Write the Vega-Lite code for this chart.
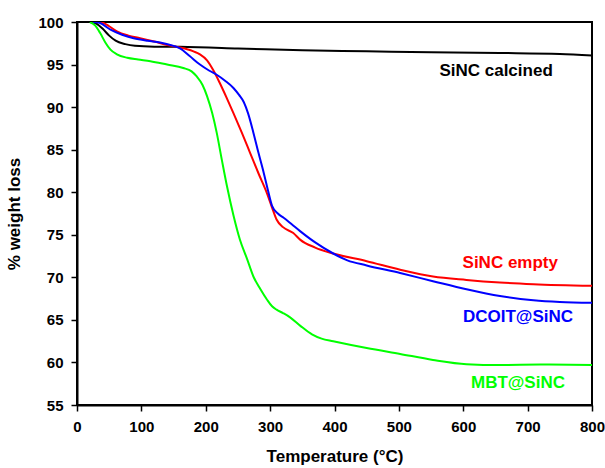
{
  "$schema": "https://vega.github.io/schema/vega-lite/v6.json",
  "autosize": "none",
  "width": 515,
  "height": 383,
  "padding": {"left": 77, "top": 22, "right": 13, "bottom": 63},
  "background": "white",
  "config": {
    "font": "Liberation Sans",
    "view": {"stroke": "black", "strokeWidth": 2},
    "axis": {
      "grid": false,
      "domainColor": "black",
      "domainWidth": 2,
      "tickColor": "black",
      "tickWidth": 1.5,
      "labelFont": "Liberation Sans",
      "labelFontWeight": "bold",
      "labelFontSize": 15,
      "labelColor": "black",
      "titleFont": "Liberation Sans",
      "titleFontWeight": "bold",
      "titleFontSize": 17,
      "titleColor": "black"
    }
  },
  "datasets": {
    "curves": [
      {"series": "SiNC calcined", "t": 20, "w": 100},
      {"series": "SiNC calcined", "t": 30, "w": 99.8},
      {"series": "SiNC calcined", "t": 40, "w": 99.2},
      {"series": "SiNC calcined", "t": 50, "w": 98.4},
      {"series": "SiNC calcined", "t": 60, "w": 97.8},
      {"series": "SiNC calcined", "t": 75, "w": 97.4},
      {"series": "SiNC calcined", "t": 90, "w": 97.2},
      {"series": "SiNC calcined", "t": 120, "w": 97.1},
      {"series": "SiNC calcined", "t": 160, "w": 97.08},
      {"series": "SiNC calcined", "t": 250, "w": 96.9},
      {"series": "SiNC calcined", "t": 350, "w": 96.67},
      {"series": "SiNC calcined", "t": 450, "w": 96.55},
      {"series": "SiNC calcined", "t": 550, "w": 96.45},
      {"series": "SiNC calcined", "t": 657, "w": 96.36},
      {"series": "SiNC calcined", "t": 750, "w": 96.24},
      {"series": "SiNC calcined", "t": 800, "w": 96.05},

      {"series": "SiNC empty", "t": 25, "w": 100},
      {"series": "SiNC empty", "t": 36, "w": 100},
      {"series": "SiNC empty", "t": 50, "w": 99.5},
      {"series": "SiNC empty", "t": 62, "w": 98.9},
      {"series": "SiNC empty", "t": 80, "w": 98.4},
      {"series": "SiNC empty", "t": 98, "w": 98.1},
      {"series": "SiNC empty", "t": 120, "w": 97.7},
      {"series": "SiNC empty", "t": 140, "w": 97.3},
      {"series": "SiNC empty", "t": 160, "w": 97.0},
      {"series": "SiNC empty", "t": 171, "w": 96.8},
      {"series": "SiNC empty", "t": 181, "w": 96.55},
      {"series": "SiNC empty", "t": 191, "w": 96.2},
      {"series": "SiNC empty", "t": 202, "w": 95.5},
      {"series": "SiNC empty", "t": 212, "w": 94.3},
      {"series": "SiNC empty", "t": 222, "w": 92.8},
      {"series": "SiNC empty", "t": 233, "w": 91.0},
      {"series": "SiNC empty", "t": 243, "w": 89.3},
      {"series": "SiNC empty", "t": 256, "w": 87.0},
      {"series": "SiNC empty", "t": 269, "w": 84.6},
      {"series": "SiNC empty", "t": 282, "w": 82.2},
      {"series": "SiNC empty", "t": 295, "w": 79.9},
      {"series": "SiNC empty", "t": 303, "w": 78.2},
      {"series": "SiNC empty", "t": 310, "w": 76.8},
      {"series": "SiNC empty", "t": 320, "w": 75.9},
      {"series": "SiNC empty", "t": 336, "w": 75.2},
      {"series": "SiNC empty", "t": 347, "w": 74.4},
      {"series": "SiNC empty", "t": 370, "w": 73.5},
      {"series": "SiNC empty", "t": 398, "w": 72.8},
      {"series": "SiNC empty", "t": 450, "w": 71.9},
      {"series": "SiNC empty", "t": 502, "w": 70.9},
      {"series": "SiNC empty", "t": 553, "w": 70.1},
      {"series": "SiNC empty", "t": 605, "w": 69.7},
      {"series": "SiNC empty", "t": 657, "w": 69.4},
      {"series": "SiNC empty", "t": 709, "w": 69.2},
      {"series": "SiNC empty", "t": 800, "w": 69.0},

      {"series": "DCOIT@SiNC", "t": 25, "w": 100},
      {"series": "DCOIT@SiNC", "t": 35, "w": 99.9},
      {"series": "DCOIT@SiNC", "t": 52, "w": 99.1},
      {"series": "DCOIT@SiNC", "t": 70, "w": 98.5},
      {"series": "DCOIT@SiNC", "t": 88, "w": 98.1},
      {"series": "DCOIT@SiNC", "t": 110, "w": 97.8},
      {"series": "DCOIT@SiNC", "t": 129, "w": 97.6},
      {"series": "DCOIT@SiNC", "t": 150, "w": 97.2},
      {"series": "DCOIT@SiNC", "t": 160, "w": 96.9},
      {"series": "DCOIT@SiNC", "t": 175, "w": 96.0},
      {"series": "DCOIT@SiNC", "t": 191, "w": 95.0},
      {"series": "DCOIT@SiNC", "t": 205, "w": 94.3},
      {"series": "DCOIT@SiNC", "t": 217, "w": 93.8},
      {"series": "DCOIT@SiNC", "t": 230, "w": 93.1},
      {"series": "DCOIT@SiNC", "t": 243, "w": 92.25},
      {"series": "DCOIT@SiNC", "t": 252, "w": 91.4},
      {"series": "DCOIT@SiNC", "t": 259, "w": 90.6},
      {"series": "DCOIT@SiNC", "t": 266, "w": 89.2},
      {"series": "DCOIT@SiNC", "t": 274, "w": 87.0},
      {"series": "DCOIT@SiNC", "t": 282, "w": 84.6},
      {"series": "DCOIT@SiNC", "t": 290, "w": 82.3},
      {"series": "DCOIT@SiNC", "t": 297, "w": 80.1},
      {"series": "DCOIT@SiNC", "t": 303, "w": 78.4},
      {"series": "DCOIT@SiNC", "t": 312, "w": 77.5},
      {"series": "DCOIT@SiNC", "t": 321, "w": 77.0},
      {"series": "DCOIT@SiNC", "t": 334, "w": 76.2},
      {"series": "DCOIT@SiNC", "t": 347, "w": 75.4},
      {"series": "DCOIT@SiNC", "t": 370, "w": 74.1},
      {"series": "DCOIT@SiNC", "t": 398, "w": 72.8},
      {"series": "DCOIT@SiNC", "t": 420, "w": 72.0},
      {"series": "DCOIT@SiNC", "t": 450, "w": 71.4},
      {"series": "DCOIT@SiNC", "t": 502, "w": 70.5},
      {"series": "DCOIT@SiNC", "t": 553, "w": 69.55},
      {"series": "DCOIT@SiNC", "t": 605, "w": 68.6},
      {"series": "DCOIT@SiNC", "t": 657, "w": 67.8},
      {"series": "DCOIT@SiNC", "t": 709, "w": 67.3},
      {"series": "DCOIT@SiNC", "t": 750, "w": 67.1},
      {"series": "DCOIT@SiNC", "t": 800, "w": 67.0},

      {"series": "MBT@SiNC", "t": 20, "w": 100},
      {"series": "MBT@SiNC", "t": 28, "w": 99.6},
      {"series": "MBT@SiNC", "t": 36, "w": 98.7},
      {"series": "MBT@SiNC", "t": 44, "w": 97.6},
      {"series": "MBT@SiNC", "t": 52, "w": 96.75},
      {"series": "MBT@SiNC", "t": 62, "w": 96.2},
      {"series": "MBT@SiNC", "t": 78, "w": 95.8},
      {"series": "MBT@SiNC", "t": 95, "w": 95.6},
      {"series": "MBT@SiNC", "t": 114, "w": 95.4},
      {"series": "MBT@SiNC", "t": 140, "w": 95.0},
      {"series": "MBT@SiNC", "t": 165, "w": 94.6},
      {"series": "MBT@SiNC", "t": 178, "w": 94.2},
      {"series": "MBT@SiNC", "t": 186, "w": 93.6},
      {"series": "MBT@SiNC", "t": 195, "w": 92.6},
      {"series": "MBT@SiNC", "t": 202, "w": 91.3},
      {"series": "MBT@SiNC", "t": 210, "w": 89.3},
      {"series": "MBT@SiNC", "t": 217, "w": 87.0},
      {"series": "MBT@SiNC", "t": 225, "w": 83.8},
      {"series": "MBT@SiNC", "t": 233, "w": 80.7},
      {"series": "MBT@SiNC", "t": 243, "w": 77.3},
      {"series": "MBT@SiNC", "t": 253, "w": 74.45},
      {"series": "MBT@SiNC", "t": 264, "w": 72.2},
      {"series": "MBT@SiNC", "t": 274, "w": 70.1},
      {"series": "MBT@SiNC", "t": 285, "w": 68.6},
      {"series": "MBT@SiNC", "t": 295, "w": 67.4},
      {"series": "MBT@SiNC", "t": 303, "w": 66.6},
      {"series": "MBT@SiNC", "t": 310, "w": 66.2},
      {"series": "MBT@SiNC", "t": 320, "w": 65.8},
      {"series": "MBT@SiNC", "t": 331, "w": 65.3},
      {"series": "MBT@SiNC", "t": 347, "w": 64.3},
      {"series": "MBT@SiNC", "t": 365, "w": 63.3},
      {"series": "MBT@SiNC", "t": 380, "w": 62.8},
      {"series": "MBT@SiNC", "t": 398, "w": 62.5},
      {"series": "MBT@SiNC", "t": 450, "w": 61.7},
      {"series": "MBT@SiNC", "t": 502, "w": 61.0},
      {"series": "MBT@SiNC", "t": 553, "w": 60.3},
      {"series": "MBT@SiNC", "t": 605, "w": 59.8},
      {"series": "MBT@SiNC", "t": 657, "w": 59.7},
      {"series": "MBT@SiNC", "t": 720, "w": 59.75},
      {"series": "MBT@SiNC", "t": 800, "w": 59.7}
    ],
    "labels": [
      {"series": "SiNC calcined", "t": 651, "w": 94.2},
      {"series": "SiNC empty", "t": 673, "w": 71.7},
      {"series": "DCOIT@SiNC", "t": 685, "w": 65.3},
      {"series": "MBT@SiNC", "t": 685, "w": 57.55}
    ]
  },
  "layer": [
    {
      "data": {"name": "curves"},
      "mark": {"type": "line", "strokeWidth": 2, "interpolate": "monotone", "clip": true},
      "encoding": {
        "x": {
          "field": "t",
          "type": "quantitative",
          "scale": {"domain": [0, 800], "nice": false},
          "axis": {
            "title": "Temperature (°C)",
            "values": [0, 50, 100, 150, 200, 250, 300, 350, 400, 450, 500, 550, 600, 650, 700, 750, 800],
            "labelExpr": "datum.value % 100 === 0 ? datum.label : ''",
            "tickSize": {"condition": {"test": "datum.value % 100 === 0", "value": 6}, "value": 3},
            "labelPadding": 8,
            "titlePadding": 14,
            "labelFlush": false
          }
        },
        "y": {
          "field": "w",
          "type": "quantitative",
          "scale": {"domain": [55, 100], "nice": false, "zero": false},
          "axis": {
            "title": "% weight loss",
            "values": [55, 57.5, 60, 62.5, 65, 67.5, 70, 72.5, 75, 77.5, 80, 82.5, 85, 87.5, 90, 92.5, 95, 97.5, 100],
            "labelExpr": "datum.value % 5 === 0 ? datum.label : ''",
            "tickSize": {"condition": {"test": "datum.value % 5 === 0", "value": 6}, "value": 3},
            "labelPadding": 8,
            "titlePadding": 14,
            "labelFlush": false
          }
        },
        "color": {
          "field": "series",
          "type": "nominal",
          "scale": {
            "domain": ["SiNC calcined", "SiNC empty", "DCOIT@SiNC", "MBT@SiNC"],
            "range": ["#000000", "#FF0000", "#0000FF", "#00FF00"]
          },
          "legend": null
        },
        "detail": {"field": "series"}
      }
    },
    {
      "data": {"name": "labels"},
      "mark": {"type": "text", "font": "Liberation Sans", "fontWeight": "bold", "fontSize": 17, "align": "center", "baseline": "middle"},
      "encoding": {
        "x": {"field": "t", "type": "quantitative"},
        "y": {"field": "w", "type": "quantitative"},
        "text": {"field": "series"},
        "color": {"field": "series", "type": "nominal", "legend": null}
      }
    }
  ]
}
